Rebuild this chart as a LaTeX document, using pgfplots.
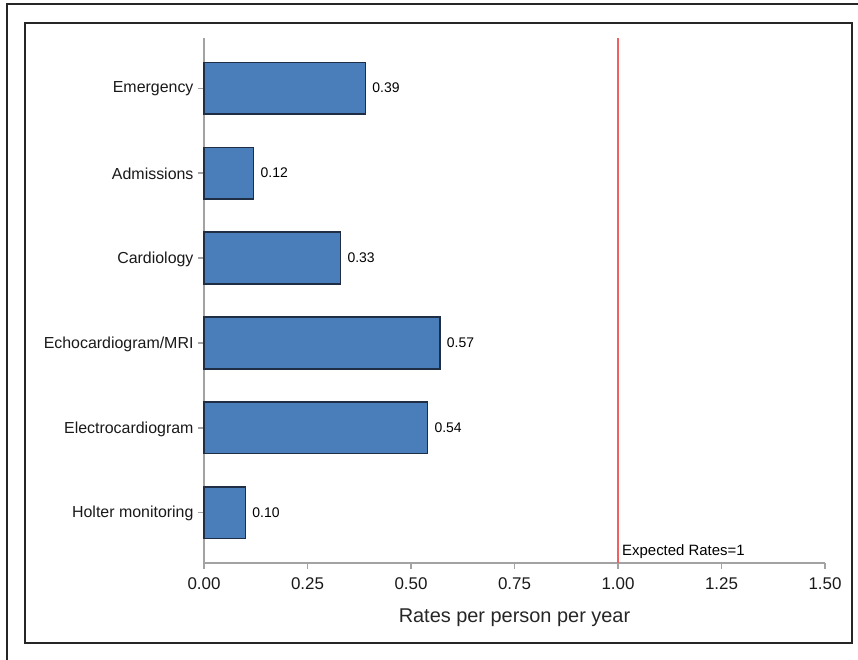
\documentclass[border=0pt]{standalone}
\usepackage{pgfplots}
\pgfplotsset{compat=1.18}
\usepackage{fontspec}
\setmainfont{Liberation Sans}

\definecolor{barblue}{HTML}{4A7EBB}
\definecolor{baredge}{HTML}{1F2D45}
\definecolor{axisgray}{HTML}{A3A3A3}
\definecolor{refred}{HTML}{F06060}

\begin{document}
\begin{tikzpicture}
% picture is 858 x 660 bp, y measured from the bottom
\path[use as bounding box] (0,0) rectangle (858bp,660bp);
\draw[line width=1.5bp, black!85] (7bp,0) -- (7bp,656bp) -- (858bp,656bp);
\draw[line width=1.5bp, black!85] (25bp,17bp) rectangle (852bp,637bp);

\begin{axis}[
    at={(204bp,97bp)}, anchor=south west,
    scale only axis,
    width=621bp, height=525bp,
    xmin=0, xmax=1.5,
    ymin=-0.59, ymax=5.59,
    axis x line=bottom, axis y line=left,
    axis line style={axisgray, line width=1.2bp, -},
    xtick={0,0.25,0.5,0.75,1,1.25,1.5},
    x tick label style={font=\fontsize{17}{19}\selectfont, yshift=-5bp,
        /pgf/number format/fixed, /pgf/number format/fixed zerofill,
        /pgf/number format/precision=2},
    /pgf/number format/assume math mode=true,
    ytick={0,1,2,3,4,5},
    yticklabels={Holter monitoring,Electrocardiogram,Echocardiogram/MRI,Cardiology,Admissions,Emergency},
    tick align=outside,
    major tick length=6bp,
    tick style={axisgray, line width=1.2bp},
    y tick label style={font=\fontsize{16}{18}\selectfont, xshift=-1bp, yshift=-1bp},
    ticklabel style={text=black!90},
    xlabel={Rates per person per year},
    xlabel style={font=\fontsize{20}{22}\selectfont, text=black!85, yshift=-12bp},
    xbar, bar width=0.61,
    nodes near coords,
    nodes near coords style={font=\fontsize{14}{16}\selectfont, text=black, xshift=3bp,
        /pgf/number format/fixed, /pgf/number format/fixed zerofill,
        /pgf/number format/precision=2},
    clip=false,
]
\addplot[fill=barblue, draw=baredge, line width=1.3bp] coordinates {
    (0.10,0) (0.54,1) (0.57,2) (0.33,3) (0.12,4) (0.39,5)
};
\draw[refred, line width=1.5bp] (axis cs:1,-0.59) -- (axis cs:1,5.59);
\node[anchor=base west, font=\fontsize{15}{17}\selectfont, text=black, inner sep=0pt]
    at ([xshift=4bp, yshift=8bp]axis cs:1,-0.59) {Expected Rates=1};
\end{axis}
\end{tikzpicture}
\end{document}
